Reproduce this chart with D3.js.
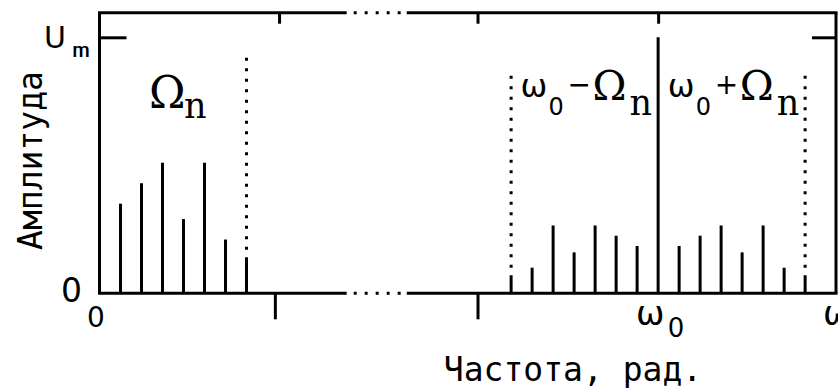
<!DOCTYPE html>
<html>
<head>
<meta charset="utf-8">
<script src="https://cdn.jsdelivr.net/npm/d3@7"></script>
<style>
  html, body { margin: 0; padding: 0; background: #fff; }
  svg { display: block; }
</style>
</head>
<body>
<script>
// Spectrum of an AM signal: baseband components Ω1..Ω7, the carrier ω0
// and the two side bands ω0−Ωn / ω0+Ωn.

// harmonic numbers of the modulating signal
const harmonics = [1, 2, 3, 4, 5, 6, 7];
// baseband amplitudes (fraction of Um)
const baseAmp = [0.35, 0.43, 0.51, 0.29, 0.51, 0.21, 0.13];
// side-band amplitudes (fraction of Um), same order as harmonics
const sideAmp = [0.185, 0.225, 0.265, 0.16, 0.265, 0.10, 0.06];
// carrier amplitude
const carrierAmp = 1;
// carrier frequency and axis extent, in units of Ω1
const omega0 = 26.6;
const xMax = 35.07;
const yMax = 1.096;
// tick positions on the top and bottom frame
const topTicks = [8.55, 18.0, omega0];
const bottomTicks = [8.35, 18.0];
// scale break on the frequency axis
const axisBreak = [11.77, 14.63];
// heights of the dotted band limits
const guideBase = 0.92;
const guideSide = 0.85;
// texts
const yTitle = "Амплитуда";
const xTitle = "Частота, рад.";

const W = 838, H = 389;
const svg = d3.select("body").append("svg").attr("width", W).attr("height", H);

const x = d3.scaleLinear().domain([0, xMax]).range([99.5, 836]);
const y = d3.scaleLinear().domain([0, 1]).range([293.3, 37.3]);

const ink = "#000";
const sw = 3;

// ---- ticks via d3 axes ----
function styleAxis(g) {
  g.select(".domain").remove();
  g.selectAll(".tick line").attr("stroke", ink).attr("stroke-width", sw);
  g.selectAll(".tick text").remove();
}
svg.append("g").attr("transform", `translate(0,${y(yMax)})`)
  .call(d3.axisBottom(x).tickValues(topTicks).tickSize(11).tickFormat(""))
  .call(styleAxis);
svg.append("g").attr("transform", `translate(0,${y(0)})`)
  .call(d3.axisBottom(x).tickValues(bottomTicks).tickSize(26).tickFormat(""))
  .call(styleAxis);
svg.append("g").attr("transform", `translate(${x(0)},0)`)
  .call(d3.axisRight(y).tickValues([1]).tickSize(27).tickFormat(""))
  .call(styleAxis);
svg.append("g").attr("transform", `translate(${x(xMax)},0)`)
  .call(d3.axisLeft(y).tickValues([1]).tickSize(24).tickFormat(""))
  .call(styleAxis);

// ---- frame with the scale break ----
const frame = svg.append("g").attr("stroke", ink).attr("stroke-width", sw).attr("fill", "none");
[yMax, 0].forEach(v => {
  frame.append("line").attr("x1", x(0) - 1.5).attr("x2", x(axisBreak[0])).attr("y1", y(v)).attr("y2", y(v));
  frame.append("line").attr("x1", x(axisBreak[1])).attr("x2", x(xMax) + 1.5).attr("y1", y(v)).attr("y2", y(v));
  frame.append("line")
    .attr("x1", x(axisBreak[0]) + 7).attr("x2", x(axisBreak[1]) - 3)
    .attr("y1", y(v)).attr("y2", y(v))
    .attr("stroke-dasharray", "3 8");
});
frame.append("line").attr("x1", x(0)).attr("x2", x(0)).attr("y1", y(yMax)).attr("y2", y(0));
frame.append("line").attr("x1", x(xMax)).attr("x2", x(xMax)).attr("y1", y(yMax)).attr("y2", y(0));

// ---- spectral lines ----
const lines = [];
harmonics.forEach((k, i) => {
  lines.push({ f: k, a: baseAmp[i] });
  lines.push({ f: omega0 - k, a: sideAmp[i] });
  lines.push({ f: omega0 + k, a: sideAmp[i] });
});
lines.push({ f: omega0, a: carrierAmp });

svg.append("g").selectAll("line").data(lines).join("line")
  .attr("x1", d => x(d.f)).attr("x2", d => x(d.f))
  .attr("y1", y(0)).attr("y2", d => y(d.a))
  .attr("stroke", ink).attr("stroke-width", sw);

// ---- dotted band limits ----
const nLast = harmonics.length - 1;
const guides = [
  { f: harmonics[nLast], top: guideBase, bottom: baseAmp[nLast] },
  { f: omega0 - harmonics[nLast], top: guideSide, bottom: sideAmp[nLast] },
  { f: omega0 + harmonics[nLast], top: guideSide, bottom: sideAmp[nLast] }
];
svg.append("g").selectAll("line").data(guides).join("line")
  .attr("x1", d => x(d.f)).attr("x2", d => x(d.f))
  .attr("y1", d => y(d.top)).attr("y2", d => y(d.bottom))
  .attr("stroke", ink).attr("stroke-width", sw)
  .attr("stroke-dasharray", "3 7.5");

// ---- text helpers ----
const mono = "'DejaVu Sans Mono', monospace";
const serif = "'DejaVu Serif', serif";
const sans = "'DejaVu Sans', sans-serif";

function put(px, py, str, size, family, anchor) {
  return svg.append("text")
    .attr("x", px).attr("y", py)
    .attr("font-family", family).attr("font-size", size)
    .attr("text-anchor", anchor || "start")
    .attr("fill", ink).text(str);
}

// band labels built from pieces: [text, size, family, dx, baseline dy]
function bandLabel(left, baseY, pieces) {
  const g = svg.append("g");
  pieces.forEach(p => {
    g.append("text")
      .attr("x", left + p[3]).attr("y", baseY + p[4])
      .attr("font-family", p[2]).attr("font-size", p[1])
      .attr("fill", ink).text(p[0]);
  });
  return g;
}

// Ωn over the baseband
const midBase = (x(0) + x(harmonics[nLast])) / 2;
bandLabel(midBase - 24, 108, [
  ["Ω", 44, serif, 0, 0],
  ["n", 35, serif, 35, 10]
]);
// ω0−Ωn and ω0+Ωn over the side bands
const midLow = (x(omega0 - harmonics[nLast]) + x(omega0)) / 2;
const midHigh = (x(omega0) + x(omega0 + harmonics[nLast])) / 2;
[[midLow, "−"], [midHigh, "+"]].forEach(([c, sign]) => {
  bandLabel(c - 63, 97, [
    ["ω", 32, sans, -1, 0],
    ["0", 24, sans, 27, 18],
    [sign, 28, sans, 46, -3],
    ["Ω", 41, serif, 71, 3],
    ["n", 35, serif, 108, 18]
  ]);
});

// axis values
put(x(0) - 28, 302, "0", 33, sans, "middle");
put(x(0) - 3.5, 327, "0", 28, sans, "middle");
put(x(0) - 44.5, 48, "U", 30, sans, "middle");
put(72, 57, "m", 19, mono, "start").attr("textLength", 18).attr("lengthAdjust", "spacingAndGlyphs");
put(x(omega0) - 8, 325, "ω", 34, sans, "middle");
put(x(omega0) + 18, 337, "0", 26, sans, "middle");
put(x(xMax) - 13, 325, "ω", 34, sans, "start");

// axis titles
put(573, 381, xTitle, 33, mono, "middle");
svg.append("text")
  .attr("transform", "translate(42,160.5) rotate(-90)")
  .attr("font-family", mono).attr("font-size", 33)
  .attr("text-anchor", "middle").attr("fill", ink)
  .text(yTitle);
</script>
</body>
</html>
